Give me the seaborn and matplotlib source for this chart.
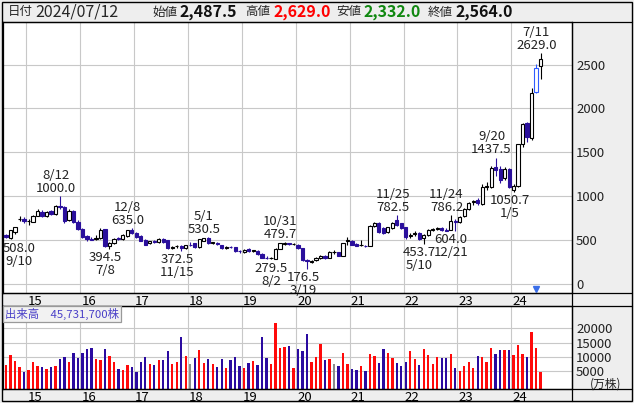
import numpy as np
import pandas as pd
import matplotlib
matplotlib.use("Agg")
import matplotlib.pyplot as plt
from matplotlib.lines import Line2D
from matplotlib.patches import Rectangle
import seaborn as sns

# monthly candles, Aug 2014 .. Jul 2024
months = pd.period_range("2014-08", "2024-07", freq="M").strftime("%Y-%m").tolist()

opens = [
    555, 530, 590, 738, 745,
    718, 712, 778, 825, 775, 835, 800, 888, 880, 730, 830, 712,
    625, 545, 512, 510, 520, 622, 430, 470, 520, 512, 552, 615,
    585, 548, 505, 463, 490, 478, 515, 498, 415, 428, 432, 408,
    448, 462, 425, 495, 520, 468, 470, 445, 408, 425, 418, 380,
    362, 400, 378, 376, 342, 300, 292, 285, 400, 460, 462, 452,
    450, 405, 270, 255, 273, 292, 320, 300, 362, 360, 320, 495,
    493, 456, 440, 438, 433, 661, 691, 634, 596, 634, 729, 691,
    645, 550, 572, 577, 520, 558, 620, 632, 634, 612, 615, 718,
    710, 770, 860, 930, 955, 915, 1110, 1110, 1330, 1315, 1210, 1315,
    1070, 1120, 1590, 1830, 1660, 2190, 2487.5,
]
highs = [
    575, 620, 655, 770, 760,
    745, 785, 850, 840, 830, 845, 895, 1000, 890, 850, 845, 725,
    640, 560, 540, 560, 640, 632, 480, 525, 540, 565, 620, 635,
    595, 555, 515, 495, 497, 525, 525, 505, 435, 440, 440, 450,
    475, 470, 515, 525, 530.5, 482, 478, 450, 430, 432, 425, 390,
    400, 410, 392, 385, 350, 315, 310, 405, 470, 479.7, 470, 465,
    460, 415, 285, 275, 305, 335, 330, 375, 385, 368, 470, 539,
    500, 465, 500, 450, 675, 712, 705, 645, 655, 712, 782.5, 700,
    650, 580, 600, 590, 570, 625, 640, 650, 650, 640, 786.2, 735,
    780, 870, 935, 960, 985, 1140, 1160, 1340, 1437.5, 1340, 1330, 1320,
    1140, 1600, 1830, 1840, 2236, 2502, 2629,
]
lows = [
    525, 508, 575, 715, 700,
    672, 705, 770, 760, 765, 790, 790, 860, 700, 715, 700, 620,
    520, 495, 498, 505, 515, 420, 394.5, 460, 500, 505, 540, 570,
    530, 485, 440, 455, 470, 470, 470, 400, 400, 410, 372.5, 400,
    430, 405, 415, 485, 460, 455, 440, 395, 400, 405, 370, 355,
    350, 370, 365, 330, 295, 288, 284, 279.5, 395, 445, 448, 440,
    395, 265, 176.5, 240, 265, 285, 290, 295, 345, 315, 315, 444,
    440, 428, 430, 425, 428, 650, 585, 568, 585, 625, 660, 625,
    509, 530, 545, 500, 453.7, 550, 600, 615, 605, 606, 610, 604,
    690, 760, 840, 905, 900, 900, 1070, 1090, 1230, 1150, 1190, 1090,
    1050.7, 1110, 1560, 1620, 1640, 2172, 2332,
]
closes = [
    535, 610, 645, 742, 715,
    720, 775, 830, 770, 822, 800, 885, 878, 715, 830, 710, 628,
    535, 510, 505, 525, 620, 432, 468, 518, 510, 556, 612, 580,
    540, 492, 450, 488, 484, 518, 478, 410, 425, 430, 405, 440,
    440, 418, 510, 520, 470, 475, 452, 405, 422, 418, 378, 372,
    393, 378, 382, 338, 300, 295, 298, 400, 462, 465, 455, 458,
    405, 275, 258, 262, 300, 323, 300, 365, 365, 322, 463, 500,
    445, 435, 446, 434, 661, 699, 596, 577, 645, 699, 672, 634,
    539, 558, 577, 509, 558, 615, 625, 636, 610, 608, 720, 705,
    765, 850, 925, 940, 920, 1105, 1120, 1325, 1300, 1185, 1315, 1105,
    1120, 1594, 1822, 1675, 2175, 2456, 2564,
]
# monthly volume, 万株
volumes = [
    7108, 10621, 8513, 6523, 4766,
    5351, 8279, 6757, 6523, 5703, 6523, 6757, 9216, 10036, 8162, 11441, 9450,
    11441, 12729, 13080, 9216, 8865, 12729, 10270, 8162, 5703, 5351, 7108, 6523,
    4766, 8279, 10036, 7576, 7108, 8865, 8865, 12026, 7576, 8162, 17062, 10270,
    7459, 9450, 12377, 7928, 9216, 7459, 6523, 9216, 6054, 8865, 9918, 6757,
    6054, 7811, 8513, 7108, 17062, 9450, 7459, 21980, 13080, 13431, 13782, 5937,
    12729, 12026, 18080, 8162, 9918, 14486, 8865, 9216, 7459, 6757, 11324, 7459,
    5703, 5234, 6757, 5000, 10973, 10270, 7811, 12729, 11324, 9567, 7811, 6757,
    8162, 12026, 9216, 7108, 12729, 10621, 7459, 9918, 9567, 9567, 10973, 6054,
    5000, 6757, 8162, 6054, 10270, 9918, 8162, 13080, 10973, 12377, 12377, 12377,
    10621, 14134, 10973, 9918, 18701, 13080, 4573,
]

year_labels = ["15", "16", "17", "18", "19", "20", "21", "22", "23", "24"]
price_ticks = [0, 500, 1000, 1500, 2000, 2500]
volume_ticks = [5000, 10000, 15000, 20000]

high_marks = [("2015-08", "8/12"), ("2016-12", "12/8"), ("2018-05", "5/1"),
              ("2019-10", "10/31"), ("2021-11", "11/25"), ("2022-11", "11/24"),
              ("2023-09", "9/20"), ("2024-07", "7/11")]
low_marks = [("2014-09", "9/10"), ("2016-07", "7/8"), ("2017-11", "11/15"),
             ("2019-08", "8/2"), ("2020-03", "3/19"), ("2022-05", "5/10"),
             ("2022-12", "12/21"), ("2024-01", "1/5")]

header = {"date": "2024/07/12", "open": 2487.5, "high": 2629.0, "low": 2332.0,
          "close": 2564.0, "volume": 45731700}

# ---------------------------------------------------------------
W, H = 634, 403
BLUE = "#2a0f9c"
RED = "#ff0a0a"
GRID = "#c8c8c8"
PANEL = "#eeeeee"

sns.set_theme(style="white")
plt.rcParams["font.family"] = ["Noto Sans CJK JP", "DejaVu Sans"]
plt.rcParams["axes.unicode_minus"] = False


def fx(px):
    return px / W


def fy(py):
    return 1 - py / H


def box(x0, y0, x1, y1):
    return [fx(x0), fy(y1), fx(x1) - fx(x0), fy(y0) - fy(y1)]


fig = plt.figure(figsize=(W / 100, H / 100), dpi=100, facecolor=PANEL)
ax = fig.add_axes(box(3, 22, 572, 293))
axv = fig.add_axes(box(3, 306, 572, 389))

o = np.array(opens, float)
h = np.array(highs, float)
l = np.array(lows, float)
c = np.array(closes, float)
x = np.arange(len(months))
up = c >= o

# price panel
body_col = np.where(up, "white", BLUE)
edge_col = np.where(up, "black", BLUE).astype(object)
edge_col[months.index("2024-06")] = "#2f5cff"

ax.vlines(x, l, h, colors=edge_col, lw=0.8, zorder=2)
ax.bar(x, np.maximum(np.abs(c - o), 2), bottom=np.minimum(o, c), width=0.72,
       color=body_col, edgecolor=edge_col, linewidth=0.8, zorder=3)

xmin, xmax = -0.69, 126.0
ax.set_xlim(xmin, xmax)
ax.set_ylim(-102, 2984)
ax.set_facecolor("white")
year_grid = [4.5 + 12 * k for k in range(len(year_labels))]
label_pos = [g + 1.9 for g in year_grid]
for a in (ax, axv):
    a.set_xticks(year_grid, minor=True)
    a.set_xticks(label_pos)
    a.set_xticklabels(year_labels)
    a.tick_params(axis="x", which="both", length=0, pad=1.5, labelsize=9.5, colors="black")
    a.grid(which="minor", axis="x", color=GRID, lw=0.8)
    a.set_axisbelow(True)
    for s in a.spines.values():
        s.set_color("black")
        s.set_linewidth(0.9)

ax.set_yticks(price_ticks)
ax.yaxis.tick_right()
ax.tick_params(axis="y", length=0, pad=3, labelsize=9.5, colors="#222222")
ax.grid(which="major", axis="y", color=GRID, lw=0.8)

# marker for the current bar
ax.plot(months.index("2024-06"), -57, marker="v", color="#3a6ee8", ms=4.5, zorder=4)

ann = dict(fontsize=9.5, color="#222222", linespacing=1.0, ha="center",
           multialignment="center", textcoords="offset points", zorder=5)
for m, d in high_marks:
    i = months.index(m)
    ax.annotate(f"{d}\n{highs[i]:.1f}", xy=(i, highs[i]), xytext=(-3, 1.0), va="bottom", **ann)
for m, d in low_marks:
    i = months.index(m)
    if i < 3:
        ax.annotate(f"{lows[i]:.1f}\n{d}", xy=(xmin, lows[i]), xytext=(0, -1.5),
                    va="top", **{**ann, "ha": "left"})
    else:
        ax.annotate(f"{lows[i]:.1f}\n{d}", xy=(i, lows[i]), xytext=(-3, -1.5), va="top", **ann)

# volume panel
diff = np.diff(c, prepend=c[0] - 1)
direction = np.where(diff > 0, "up", np.where(diff < 0, "down", "flat"))
VOL_FLOOR = -1335
vol_df = pd.DataFrame({"idx": x, "vol": np.array(volumes, float) - VOL_FLOOR, "dir": direction})
sns.barplot(data=vol_df, x="idx", y="vol", hue="dir", native_scale=True, width=0.52,
            palette={"up": RED, "down": "#2a0aa0", "flat": "#8c8c8c"}, saturation=1,
            dodge=False, legend=False, errorbar=None, linewidth=0, bottom=VOL_FLOOR, ax=axv)
axv.set_xlim(xmin, xmax)
axv.set_ylim(VOL_FLOOR, 27830)
axv.set_xlabel("")
axv.set_ylabel("")
axv.set_facecolor("white")
axv.set_yticks(volume_ticks)
axv.yaxis.tick_right()
axv.tick_params(axis="y", length=0, pad=3, labelsize=9.5, colors="#222222")
axv.grid(which="major", axis="y", color=GRID, lw=0.8)
axv.set_xticks(label_pos)
axv.set_xticklabels(year_labels)

fig.text(fx(606), fy(384), "(万株)", fontsize=8.5, ha="center", va="center", color="#222222")
fig.text(fx(5), fy(314), f"出来高　{header['volume']:,}株", fontsize=8.2, color="#4a40c8",
         ha="left", va="center",
         bbox=dict(boxstyle="square,pad=0.2", fc="#f2f2f2", ec="#999999", lw=0.9))

# header line
hy = fy(12)
fig.text(fx(8), hy, "日付", fontsize=9, va="center")
fig.text(fx(35), hy, header["date"], fontsize=11.5, va="center")
items = [("始値", header["open"], "#111111", 152),
         ("高値", header["high"], "#ff0000", 245),
         ("安値", header["low"], "#118811", 336),
         ("終値", header["close"], "#111111", 428)]
for name, val, col, px in items:
    fig.text(fx(px), hy, name, fontsize=9, va="center")
    fig.text(fx(px + 28), hy, f"{val:,.1f}", fontsize=11.5, fontweight="bold", color=col, va="center")

# frame lines
for yy in (22, 293, 306, 389):
    fig.add_artist(Line2D([fx(2), fx(632)], [fy(yy), fy(yy)], color="black", lw=0.9))
fig.add_artist(Line2D([fx(572), fx(572)], [fy(22), fy(401)], color="black", lw=0.9))
fig.add_artist(Rectangle((fx(2), fy(401)), fx(630), fy(2) - fy(401), fill=False,
                         ec="black", lw=1.0, transform=fig.transFigure))

fig.savefig("out.png", dpi=100, facecolor=PANEL)
